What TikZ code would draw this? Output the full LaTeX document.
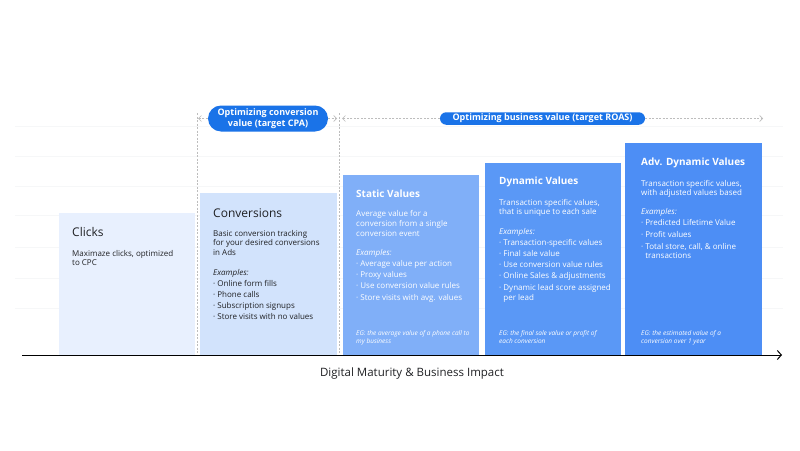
\documentclass[tikz,border=0pt]{standalone}
\usepackage{fontspec}
\setmainfont{Open Sans}
\usetikzlibrary{arrows.meta}
\definecolor{cclick}{HTML}{E8F0FE}
\definecolor{cconv}{HTML}{D2E3FC}
\definecolor{cstat}{HTML}{80AFF8}
\definecolor{cdyn}{HTML}{5A98F6}
\definecolor{cadv}{HTML}{4D8EF5}
\definecolor{cpill}{HTML}{1A73E8}
\definecolor{ctext}{HTML}{202124}
\definecolor{cguide}{HTML}{BDBDBD}
\definecolor{cgrid}{HTML}{F6F7F8}
\newcommand{\mylines}[1]{\begin{tabular}[t]{@{}l@{}}#1\end{tabular}}
\begin{document}
\begin{tikzpicture}[x=1pt,y=-1pt,
  box/.style={draw=none, anchor=north west, inner sep=0, outer sep=0},
  ttl/.style={anchor=base west, inner sep=0, font=\fontsize{12}{14}\selectfont},
  ttlw/.style={anchor=base west, inner sep=0, text=white, font=\fontsize{10}{12}\selectfont\bfseries},
  body/.style={anchor=base west, inner sep=0, font=\fontsize{8}{9.5}\selectfont},
  lst/.style={anchor=base west, inner sep=0, font=\fontsize{8}{11.2}\selectfont},
  eg/.style={anchor=base west, inner sep=0, font=\fontsize{6.5}{8}\selectfont\itshape},
  pill/.style={fill=cpill, text=white, inner sep=0, align=center, font=\fontsize{9}{10.5}\selectfont\bfseries},
  guide/.style={cguide, dashed, line width=0.6pt, dash pattern=on 2pt off 1.5pt},
  guidearrow/.style={guide, -{Straight Barb[length=3pt,width=6pt,line width=0.6pt]}},
  gridline/.style={cgrid, line width=0.8pt}
]
\useasboundingbox[fill=white] (0,0) rectangle (800,450);

% faint background lines
\foreach \yy in {126,156,186,215,247,278,308}
  \draw[gridline] (15,\yy) -- (783,\yy);

% boxes
\node[box, fill=cclick, minimum width=136, minimum height=142] (clicks) at (59,213) {};
\node[box, fill=cconv, minimum width=137, minimum height=162] (conv) at (200,193) {};
\node[box, fill=cstat, minimum width=136, minimum height=180] (stat) at (343,175) {};
\node[box, fill=cdyn, minimum width=136, minimum height=192] (dyn) at (485,163) {};
\node[box, fill=cadv, minimum width=137, minimum height=212] (adv) at (625,143) {};

% guides
\coordinate (g1t) at (197.5,113);
\coordinate (g1b) at (197.5,354);
\coordinate (g2t) at (339.5,113);
\coordinate (g2b) at (339.5,354);
\draw[guide] (g1t) -- (g1b);
\draw[guide] (g2t) -- (g2b);

% pills
\node[pill, minimum width=120, minimum height=26, rounded corners=13] (p1) at (268,118.5)
  {Optimizing conversion\\value (target CPA)};
\node[pill, minimum width=205, minimum height=12.5, rounded corners=6.25] (p2) at (542.5,118.5)
  {Optimizing business value (target ROAS)};
\coordinate (a1) at (198,118.5);
\coordinate (a2) at (337,118.5);
\coordinate (a3) at (342,118.5);
\coordinate (a4) at (763,118.5);
\draw[guidearrow] (p1.west) -- (a1);
\draw[guidearrow] (p1.east) -- (a2);
\draw[guidearrow] (p2.west) -- (a3);
\draw[guidearrow] (p2.east) -- (a4);

% Clicks
\node[ttl, text=ctext] (t1) at (72,236) {Clicks};
\node[body, text=ctext, font=\fontsize{8}{9}\selectfont] (b1) at (72,256) {\mylines{Maximaze clicks, optimized\\to CPC}};

% Conversions
\node[ttl, text=ctext] (t2) at (213,217) {Conversions};
\node[body, text=ctext] (b2) at (213,236) {\mylines{Basic conversion tracking\\for your desired conversions\\in Ads}};
\node[lst, text=ctext, font=\fontsize{8}{11}\selectfont] (l2) at (213,275) {\mylines{\itshape Examples:\\· Online form fills\\· Phone calls\\· Subscription signups\\· Store visits with no values}};

% Static
\node[ttlw] (t3) at (356,197.5) {Static Values};
\node[body, text=white, font=\fontsize{8}{10}\selectfont] (b3) at (356,216) {\mylines{Average value for a\\conversion from a single\\conversion event}};
\node[lst, text=white, font=\fontsize{8}{11.3}\selectfont] (l3) at (356,255) {\mylines{\itshape Examples:\\· Average value per action\\· Proxy values\\· Use conversion value rules\\· Store visits with avg. values}};
\node[eg, text=white] (e3) at (356,335) {\mylines{EG: the average value of a phone call to\\my business}};

% Dynamic
\node[ttlw] (t4) at (499,184.5) {Dynamic Values};
\node[body, text=white] (b4) at (499,205) {\mylines{Transaction specific values,\\that is unique to each sale}};
\node[lst, text=white] (l4) at (499,234) {\mylines{\itshape Examples:\\· Transaction-specific values\\· Final sale value\\· Use conversion value rules\\· Online Sales \& adjustments\\· Dynamic lead score assigned\\[-1.2pt]\hphantom{· }per lead}};
\node[eg, text=white] (e4) at (499,335) {\mylines{EG: the final sale value or profit of\\each conversion}};

% Adv
\node[ttlw] (t5) at (641,165.5) {Adv. Dynamic Values};
\node[body, text=white] (b5) at (641,186) {\mylines{Transaction specific values,\\with adjusted values based}};
\node[lst, text=white, font=\fontsize{8}{11.7}\selectfont] (l5) at (641,214) {\mylines{\itshape Examples:\\· Predicted Lifetime Value\\· Profit values\\· Total store, call, \& online\\[-2.7pt]\hphantom{· }transactions}};
\node[eg, text=white] (e5) at (641,335) {\mylines{EG: the estimated value of a\\conversion over 1 year}};

% axis
\coordinate (ax0) at (22,355);
\coordinate (ax1) at (782,355);
\draw[black, line width=1pt, -{Straight Barb[length=4pt,width=9pt,line width=1pt]}] (ax0) -- (ax1);
\node[inner sep=0, anchor=base, text=ctext, font=\fontsize{11.5}{14}\selectfont] (axl) at (412,376) {Digital Maturity \& Business Impact};
\end{tikzpicture}
\end{document}
